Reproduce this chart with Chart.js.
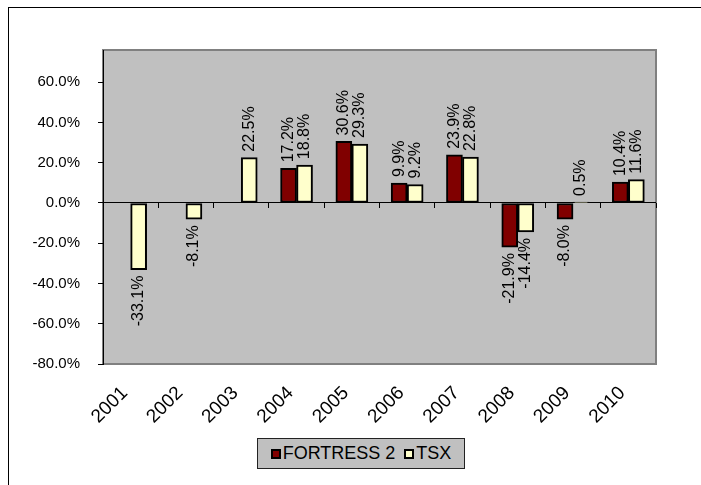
<!DOCTYPE html>
<html>
<head>
<meta charset="utf-8">
<script src="https://cdn.jsdelivr.net/npm/chart.js@4"></script>
<style>
  html, body { margin: 0; padding: 0; background: #fff; }
  #wrap { position: relative; width: 701px; height: 485px; overflow: hidden; }
  #frame {
    position: absolute; left: 8px; top: 7px; width: 800px; height: 600px;
    border-top: 1px solid #000; border-left: 1px solid #000;
  }
  #returns { position: absolute; left: 0; top: 0; }
  .legend {
    position: absolute; left: 257px; top: 438px; width: 208px; height: 31px;
    box-sizing: border-box; border: 1px solid #222; background: #c0c0c0;
    display: flex; align-items: center; justify-content: center;
    font: 18px 'Liberation Sans', Arial, sans-serif; color: #000;
  }
  .legend .sw {
    display: inline-block; width: 10px; height: 10px; box-sizing: border-box;
    border: 2px solid #000; margin-right: 2px;
  }
  .legend .item { display: flex; align-items: center; }
  .legend .item + .item { margin-left: 9px; }
</style>
</head>
<body>
<div id="wrap">
  <div id="frame"></div>
  <canvas id="returns" width="701" height="485"></canvas>
  <div class="legend" id="legend"></div>
</div>
<script>
// ── Annual returns ────────────────────────────────────
const YEARS = ['2001', '2002', '2003', '2004', '2005', '2006', '2007', '2008', '2009', '2010'];
const FORTRESS_2 = [null, null, null, 17.2, 30.6, 9.9, 23.9, -21.9, -8.0, 10.4];
const TSX = [-33.1, -8.1, 22.5, 18.8, 29.3, 9.2, 22.8, -14.4, 0.5, 11.6];
const Y_TICKS = [-80, -60, -40, -20, 0, 20, 40, 60];

const SERIES = [
  { label: 'FORTRESS 2', data: FORTRESS_2, color: '#800000' },
  { label: 'TSX', data: TSX, color: '#ffffcc' },
];

const FONT = "'Liberation Sans', Arial, sans-serif";
Chart.defaults.font.family = FONT;
Chart.defaults.color = '#000';

const fmtPct = v => v.toFixed(1) + '%';

// grey plot background + frame
const plotFrame = {
  id: 'plotFrame',
  beforeDraw(chart) {
    const { ctx, chartArea: a } = chart;
    ctx.save();
    ctx.fillStyle = '#c0c0c0';
    ctx.fillRect(a.left, a.top, a.right - a.left, a.bottom - a.top);
    ctx.strokeStyle = '#808080';
    ctx.lineWidth = 2;
    ctx.strokeRect(a.left, a.top, a.right - a.left, a.bottom - a.top);
    ctx.restore();
  },
};

// vertical value labels above / below each bar
const barLabels = {
  id: 'barLabels',
  afterDatasetsDraw(chart) {
    const { ctx } = chart;
    ctx.save();
    ctx.font = '16px ' + FONT;
    ctx.fillStyle = '#000';
    ctx.textBaseline = 'middle';
    chart.data.datasets.forEach((ds, di) => {
      chart.getDatasetMeta(di).data.forEach((bar, i) => {
        const v = ds.data[i];
        if (v === null) return;
        const up = v >= 0;
        ctx.save();
        ctx.translate(bar.x, bar.y + (up ? -6 : 6));
        ctx.rotate(-Math.PI / 2);
        ctx.textAlign = up ? 'left' : 'right';
        ctx.fillText(fmtPct(v), 0, 0);
        ctx.restore();
      });
    });
    ctx.restore();
  },
};

new Chart(document.getElementById('returns'), {
  type: 'bar',
  data: {
    labels: YEARS,
    datasets: SERIES.map(s => ({
      label: s.label,
      data: s.data,
      backgroundColor: s.color,
      borderColor: '#000',
      borderWidth: 2,
      borderSkipped: false,
      barThickness: 16,
    })),
  },
  options: {
    responsive: false,
    animation: false,
    layout: { padding: { top: 50, right: 45, left: 0, bottom: 0 } },
    plugins: { legend: { display: false }, tooltip: { enabled: false } },
    scales: {
      x: {
        grid: { display: false },
        border: { display: false },
        ticks: {
          font: { size: 19 },
          minRotation: 45,
          maxRotation: 45,
          padding: 10,
          labelOffset: -6,
        },
        afterFit(scale) { scale.height = 121; },
      },
      // category tick marks along the zero line
      xZero: {
        type: 'category',
        position: { y: 0 },
        grid: {
          offset: true,
          drawOnChartArea: false,
          drawTicks: true,
          tickLength: 5,
          tickColor: '#000',
        },
        border: { display: false },
        ticks: { display: false },
      },
      y: {
        min: -80,
        max: 76,
        afterBuildTicks(scale) { scale.ticks = Y_TICKS.map(v => ({ value: v })); },
        grid: {
          color: ctx => (ctx.tick && ctx.tick.value === 0 ? '#000' : 'rgba(0,0,0,0)'),
          tickColor: '#000',
          tickLength: 5,
        },
        border: { color: '#000', width: 1 },
        ticks: {
          font: { size: 15 },
          padding: 18,
          callback: v => fmtPct(v),
        },
        afterFit(scale) { scale.width = 103; },
      },
    },
  },
  plugins: [plotFrame, barLabels],
});

// legend
document.getElementById('legend').innerHTML = SERIES.map(s =>
  `<span class="item"><span class="sw" style="background:${s.color}"></span>${s.label}</span>`
).join('');
</script>
</body>
</html>
